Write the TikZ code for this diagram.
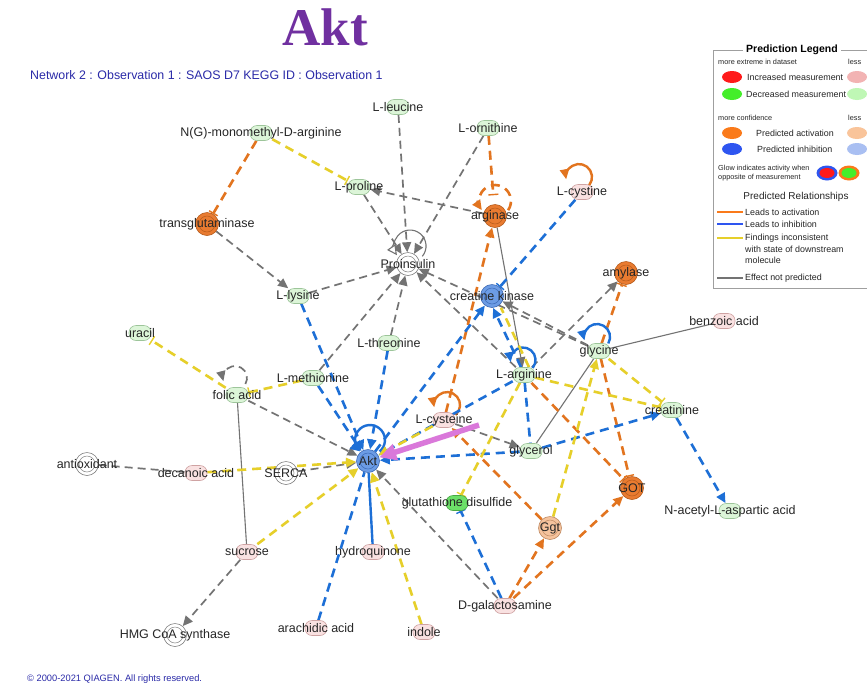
\documentclass[tikz,border=0pt]{standalone}
\usepackage{fontspec}
\setmainfont{Liberation Sans}
\newfontfamily\headserif{Liberation Serif}
\usetikzlibrary{arrows.meta}

\definecolor{tpurple}{HTML}{7030A0}
\definecolor{navy}{HTML}{2A2AA8}
\definecolor{egray}{HTML}{737373}
\definecolor{eorange}{HTML}{E2741F}
\definecolor{eblue}{HTML}{1D6FD6}
\definecolor{eyellow}{HTML}{E6CF2A}
\definecolor{epink}{HTML}{DA78DA}
\definecolor{lgfill}{HTML}{DCF5D8}
\definecolor{lgdraw}{HTML}{9DC59A}
\definecolor{lpfill}{HTML}{F9E1E1}
\definecolor{lpdraw}{HTML}{CFA3A3}
\definecolor{dgfill}{HTML}{6CDF68}
\definecolor{dgdraw}{HTML}{48A845}
\definecolor{ofill}{HTML}{E97B30}
\definecolor{odraw}{HTML}{B65B1B}
\definecolor{lofill}{HTML}{F5C39D}
\definecolor{lodraw}{HTML}{BF8A62}
\definecolor{bfill}{HTML}{6C9CE5}
\definecolor{bdraw}{HTML}{3C69B5}
% legend swatches
\definecolor{sred}{HTML}{FF1A1A}
\definecolor{sgreen}{HTML}{44EE2A}
\definecolor{slpink}{HTML}{F2B3B3}
\definecolor{slgreen}{HTML}{BFF7B5}
\definecolor{sorange}{HTML}{FA7A1A}
\definecolor{slorange}{HTML}{F9C49A}
\definecolor{sblue}{HTML}{2E55F0}
\definecolor{slblue}{HTML}{A9BFF2}

\pgfdeclarelayer{paper}
\pgfdeclarelayer{links}
\pgfsetlayers{paper,links,main}

\tikzset{
  lbl/.style={font=\fontsize{12.5}{14}\selectfont, text=black!85, inner sep=0pt},
  mol/.style={rectangle, rounded corners=7pt, minimum width=22pt, minimum height=15pt, inner sep=0pt, line width=0.6pt},
  mg/.style={mol, fill=lgfill, draw=lgdraw},
  mp/.style={mol, fill=lpfill, draw=lpdraw},
  mdg/.style={mol, fill=dgfill, draw=dgdraw},
  enz/.style={circle, minimum size=23pt, inner sep=0pt, line width=0.6pt},
  ring/.style={path picture={\draw[#1, line width=0.5pt] (path picture bounding box.center) circle[radius=8pt];}},
  eo/.style={enz, fill=ofill, draw=odraw, ring=odraw},
  elo/.style={enz, fill=lofill, draw=lodraw, ring=lodraw},
  eb/.style={enz, fill=bfill, draw=bdraw, ring=bdraw},
  ow/.style={enz, fill=white, draw=gray, ring=gray},
  act/.style={-{Triangle[length=10pt,width=9pt]}},
  inh/.style={-{Bar[width=10pt,line width=1.4pt]}},
  gd/.style={draw=egray, line width=1.7pt, dash pattern=on 8pt off 5pt},
  gs/.style={draw=egray, line width=1.1pt},
  od/.style={draw=eorange, line width=2.6pt, dash pattern=on 9pt off 6pt},
  os/.style={draw=eorange, line width=2.4pt},
  bd/.style={draw=eblue, line width=2.6pt, dash pattern=on 9pt off 6pt},
  bs/.style={draw=eblue, line width=2.4pt},
  yd/.style={draw=eyellow, line width=2.6pt, dash pattern=on 9pt off 6pt},
  pinkarrow/.style={draw=epink, line width=5.5pt, -{Triangle[length=17pt,width=16pt]}},
  legtxt/.style={font=\fontsize{8.9}{10}\selectfont, inner sep=0pt, anchor=west, text=black!85},
  legsmall/.style={font=\fontsize{7.3}{8}\selectfont, inner sep=0pt, anchor=west, text=black!85},
}

\begin{document}
\begin{tikzpicture}[x=1pt,y=-1pt]
\useasboundingbox (0,0) rectangle (867,686);
\begin{pgfonlayer}{paper}
\fill[white] (0,0) rectangle (867,686);
\end{pgfonlayer}

% headings
\node[anchor=base, inner sep=0pt, text=tpurple, font=\headserif\bfseries\fontsize{53}{60}\selectfont] (title) at (325,45) {Akt};
\node[anchor=base west, inner sep=0pt, text=navy, font=\fontsize{12.4}{14}\selectfont] (subtitle) at (30,79) {Network 2 : Observation 1 : SAOS D7 KEGG ID : Observation 1};
\node[anchor=base west, inner sep=0pt, text=navy, font=\fontsize{9.3}{11}\selectfont] (copyright) at (27,681) {\textcopyright{} 2000-2021 QIAGEN. All rights reserved.};

% molecules
\node[mg, label={[lbl]center:L-leucine}] (leu) at (398,107) {};
\node[mg, label={[lbl]center:N(G)-monomethyl-D-arginine}] (ngm) at (261,133) {};
\node[mg, label={[lbl]center:L-ornithine}] (orn) at (488,128) {};
\node[mg, label={[lbl]center:L-proline}] (pro) at (359,187) {};
\node[eo, label={[lbl]center:transglutaminase}] (tgm) at (207,224) {};
\node[eo, label={[lbl]center:arginase}] (arg) at (495,216) {};
\node[mp, label={[lbl]center:L-cystine}] (cyst) at (582,192) {};
\node[ow, label={[lbl]center:Proinsulin}] (prins) at (408,264) {};
\node[mg, label={[lbl]center:L-lysine}] (lys) at (298,296) {};
\node[eb, label={[lbl]center:creatine kinase}] (ck) at (492,296) {};
\node[eo, label={[lbl]center:amylase}] (amy) at (626,273) {};
\node[mp, label={[lbl]center:benzoic acid}] (benz) at (724,321) {};
\node[mg, label={[lbl]center:uracil}] (ura) at (140,333) {};
\node[mg, label={[lbl]center:L-threonine}] (thr) at (389,343) {};
\node[mg, label={[lbl]center:glycine}] (gly) at (599,351) {};
\node[mg, label={[lbl]center:L-methionine}] (met) at (313,378) {};
\node[mg, label={[lbl]center:L-arginine}] (larg) at (524,375) {};
\node[mg, label={[lbl]center:folic acid}] (fol) at (237,395) {};
\node[mg, label={[lbl]center:creatinine}] (crn) at (672,410) {};
\node[mp, label={[lbl]center:L-cysteine}] (cys) at (444,420) {};
\node[eb, label={[lbl]center:Akt}] (akt) at (368,461) {};
\node[mg, label={[lbl]center:glycerol}] (glyc) at (531,451) {};
\node[ow, label={[lbl]center:antioxidant}] (anti) at (87,464) {};
\node[mp, label={[lbl]center:decanoic acid}] (dec) at (196,473) {};
\node[ow, label={[lbl]center:SERCA}] (serca) at (286,473) {};
\node[eo, label={[lbl]center:GOT}] (got) at (632,488) {};
\node[mdg, label={[lbl]center:glutathione disulfide}] (gssg) at (457,503) {};
\node[mg, label={[lbl]center:N-acetyl-L-aspartic acid}] (naa) at (730,511) {};
\node[elo, label={[lbl]center:Ggt}] (ggt) at (550,528) {};
\node[mp, label={[lbl]center:sucrose}] (suc) at (247,552) {};
\node[mp, label={[lbl]center:hydroquinone}] (hq) at (373,552) {};
\node[mp, label={[lbl]center:D-galactosamine}] (dgal) at (505,606) {};
\node[ow, label={[lbl]center:HMG CoA synthase}] (hmg) at (175,635) {};
\node[mp, label={[lbl]center:arachidic acid}] (ara) at (316,628) {};
\node[mp, label={[lbl]center:indole}] (ind) at (424,632) {};

\begin{pgfonlayer}{links}
% effect not predicted
\draw[gd,act] (leu) -- (prins);
\draw[gd,act] (orn) -- (prins);
\draw[gd,act] (pro) -- (prins);
\draw[gd,act] (arg) -- (pro);
\draw[gd,act] (tgm) -- (lys);
\draw[gd,act] (lys) -- (prins);
\draw[gd,act] (thr) -- (prins);
\draw[gd,act] (met) -- (prins);
\draw[gd,act] (larg) -- (prins);
\draw[gd,act] (gly) -- (prins);
\draw[gd,act] (gly) -- (ck);
\draw[gd,act] (larg) -- (amy);
\draw[gd,act] (fol) -- (akt);
\draw[gd] (anti) -- (dec);
\draw[gd,act] (serca) -- (akt);
\draw[gd,act] (suc) -- (hmg);
\draw[gd,act] (dgal) -- (akt);
\draw[gd,act] (cys) -- (glyc);
\draw[gs,act] (arg) -- (larg);
\draw[gs] (gly) -- (benz);
\draw[gs] (gly) -- (glyc);
\draw[gs] (fol) -- (suc);
\draw[gd,act] (fol) ++(8.4,-11) arc[start angle=-30, end angle=195, radius=12pt];
\draw[gs,-{Triangle[fill=white,length=10pt,width=10pt]}] (prins) ++(14.3,-7.7) arc[start angle=-40, end angle=215, radius=16pt];

% leads to activation
\draw[od,inh] (ngm) -- (tgm);
\draw[od,inh,shorten >=9pt] (orn) -- (arg);
\draw[od,act] (cys) -- (arg);
\draw[od,act] (ggt) -- (cys);
\draw[od,inh] (gly) -- (amy);
\draw[od,inh] (gly) -- (got);
\draw[od,inh] (larg) -- (got);
\draw[od,act] (dgal) -- (ggt);
\draw[od,act] (dgal) -- (got);
\draw[od,act] (arg) ++(13.1,-5.8) arc[start angle=-35, end angle=215, radius=16pt];
\draw[os,act] (cyst) ++(3.5,-3.7) arc[start angle=-60, end angle=190, radius=13pt];
\draw[os,act] (cys) ++(11.4,-5) arc[start angle=-50, end angle=190, radius=13pt];

% leads to inhibition
\draw[bd,inh] (cyst) -- (ck);
\draw[bd,act] (lys) -- (akt);
\draw[bd,act] (thr) -- (akt);
\draw[bd,act] (met) -- (akt);
\draw[bd,act] (akt) -- (ck);
\draw[bd,act] ([xshift=-3pt]larg.north) -- ([xshift=1pt]ck.south);
\draw[bd,act] (larg) -- (akt);
\draw[bd,act] (glyc) -- (akt);
\draw[bd] (larg) -- (glyc);
\draw[bd,act] (glyc) -- (crn);
\draw[bd,act] (crn) -- (naa);
\draw[bd] (ara) -- (akt);
\draw[bd,inh] (dgal) -- (gssg);
\draw[bs] (akt) -- (hq);
\draw[bs,act] (akt) ++(11.6,-9.5) arc[start angle=-50, end angle=230, radius=15pt];
\draw[bs,act] (larg) ++(8.6,-7) arc[start angle=-40, end angle=190, radius=12.5pt];
\draw[bs,act] (gly) ++(9.3,-7.5) arc[start angle=-30, end angle=195, radius=13pt];

% findings inconsistent with downstream state
\draw[yd,inh] (ngm) -- (pro);
\draw[yd,inh] (fol) -- (ura);
\draw[yd,inh] (met) -- (fol);
\draw[yd,act] (dec) -- (akt);
\draw[yd,act] (suc) -- (akt);
\draw[yd,act] (ind) -- (akt);
\draw[yd,act] (cys) -- (akt);
\draw[yd] ([xshift=5pt]larg.north) -- ([xshift=9pt]ck.south);
\draw[yd,inh] (larg) -- (crn);
\draw[yd,inh] (gly) -- (crn);
\draw[yd,inh] (larg) -- (gssg);
\draw[yd,act] (ggt) -- (gly);
\end{pgfonlayer}

% highlight arrow
\coordinate (pk) at (479,425);
\draw[pinkarrow] (pk) -- (akt);

% legend
\draw[gray!75, line width=0.8pt] (713,50) rectangle (895,288);
\node[fill=white, inner xsep=3pt, inner ysep=1pt, font=\bfseries\fontsize{10.5}{12}\selectfont] at (792,50) {Prediction Legend};
\node[legsmall] at (718,62) {more extreme in dataset};
\node[legsmall] at (848,62) {less};
\fill[sred] (732,77) ellipse[x radius=10pt, y radius=6pt];
\node[legtxt] at (747,77) {Increased measurement};
\fill[slpink] (857,77) ellipse[x radius=10pt, y radius=6pt];
\fill[sgreen] (732,94) ellipse[x radius=10pt, y radius=6pt];
\node[legtxt] at (746,94) {Decreased measurement};
\fill[slgreen] (857,94) ellipse[x radius=10pt, y radius=6pt];
\node[legsmall] at (718,118) {more confidence};
\node[legsmall] at (848,118) {less};
\fill[sorange] (732,133) ellipse[x radius=10pt, y radius=6pt];
\node[legtxt] at (756,133) {Predicted activation};
\fill[slorange] (857,133) ellipse[x radius=10pt, y radius=6pt];
\fill[sblue] (732,149) ellipse[x radius=10pt, y radius=6pt];
\node[legtxt] at (757,149) {Predicted inhibition};
\fill[slblue] (857,149) ellipse[x radius=10pt, y radius=6pt];
\node[legsmall] at (718,169) {Glow indicates activity when};
\node[legsmall] at (718,178) {opposite of measurement};
\fill[sblue] (827,173) ellipse[x radius=10.5pt, y radius=7.5pt];
\fill[sred] (827,173) ellipse[x radius=7.5pt, y radius=5pt];
\fill[sorange] (849,173) ellipse[x radius=10.5pt, y radius=7.5pt];
\fill[sgreen] (849,173) ellipse[x radius=7.5pt, y radius=5pt];
\node[font=\fontsize{10}{12}\selectfont, inner sep=0pt, text=black!85] at (796,197) {Predicted Relationships};
\draw[sorange, line width=2.2pt] (717,212) -- (743,212);
\node[legtxt] at (745,212) {Leads to activation};
\draw[sblue, line width=2.2pt] (717,224) -- (743,224);
\node[legtxt] at (745,224) {Leads to inhibition};
\draw[eyellow, line width=2.2pt] (717,238) -- (743,238);
\node[legtxt] at (745,238) {Findings inconsistent};
\node[legtxt] at (745,249) {with state of downstream};
\node[legtxt] at (745,260) {molecule};
\draw[egray, line width=2.6pt] (717,278) -- (743,278);
\node[legtxt] at (745,278) {Effect not predicted};
\end{tikzpicture}
\end{document}
